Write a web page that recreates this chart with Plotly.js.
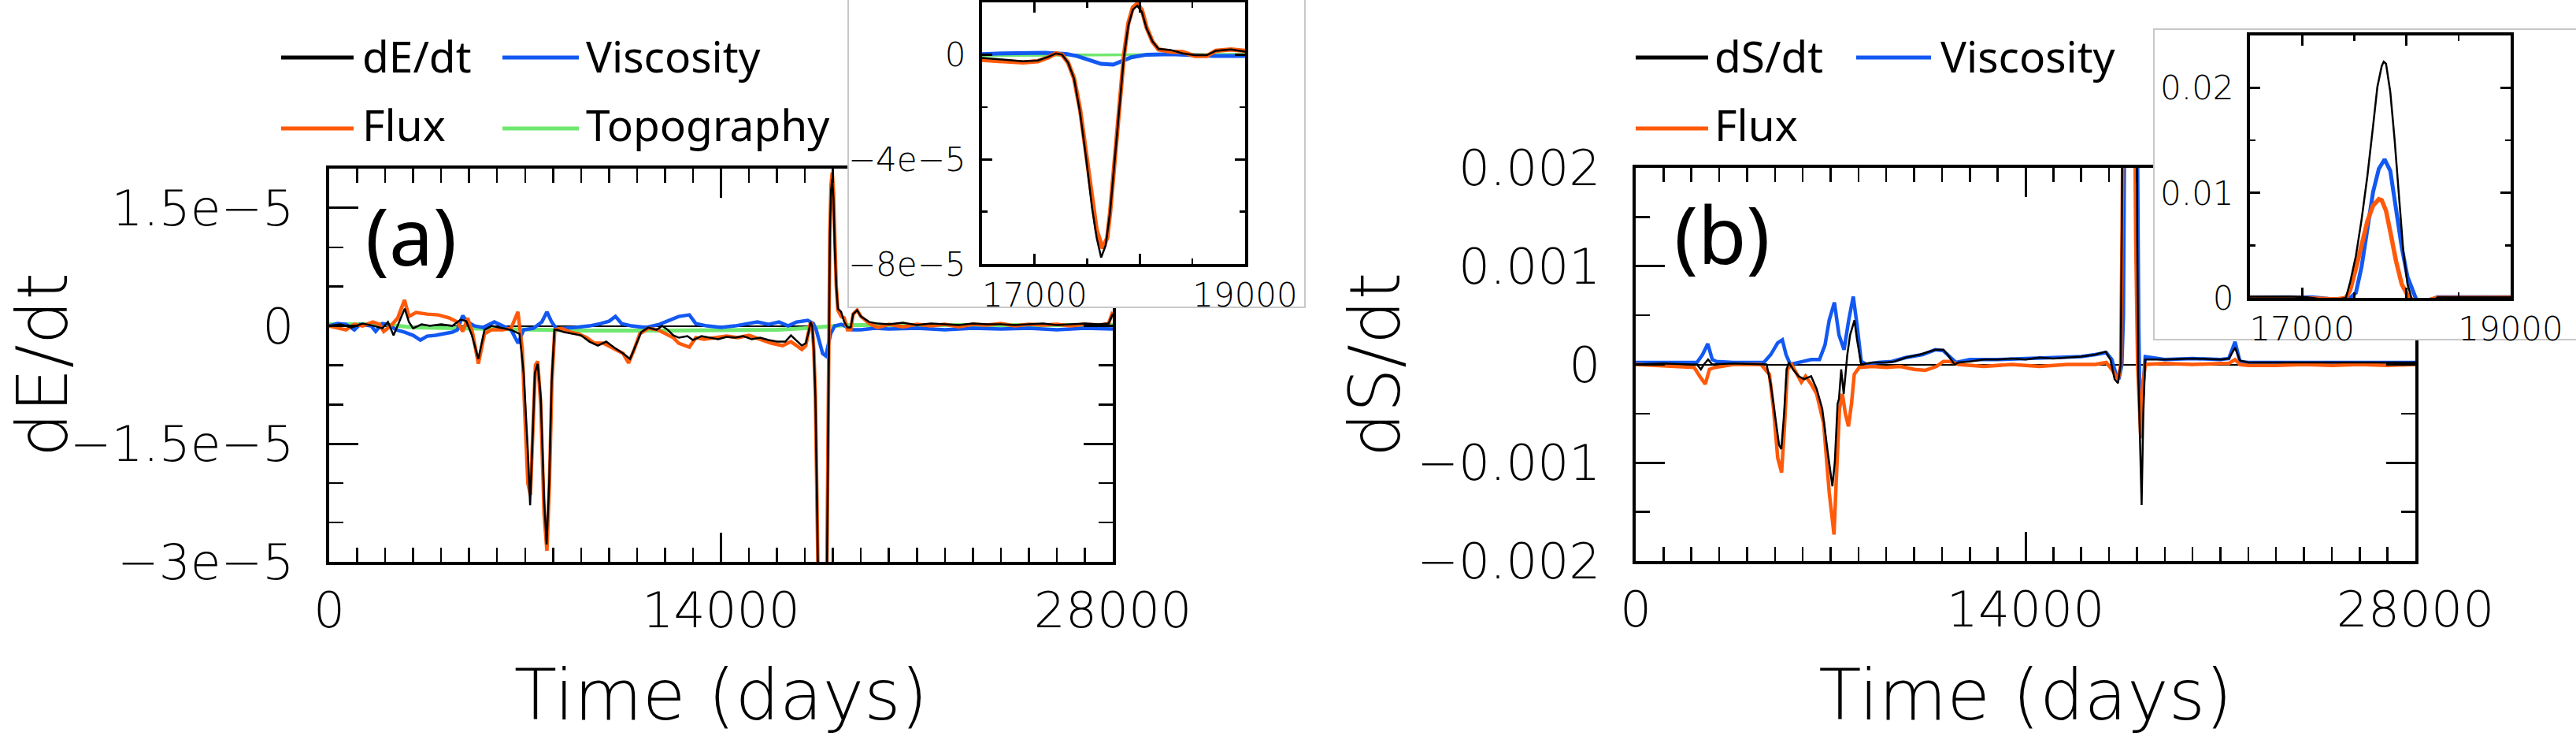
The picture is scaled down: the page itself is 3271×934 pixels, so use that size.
<!DOCTYPE html>
<html><head><meta charset="utf-8">
<script src="https://cdn.plot.ly/plotly-3.0.1.min.js"></script>
<style>html,body{margin:0;padding:0;background:#fff;} #chart{width:3271px;height:934px;}</style>
</head><body><div id="chart"></div>
<script>
// ---------------- Panel (a): energy budget ----------------
const a_days_dEdt = [0,400,800,1200,1600,1900,2100,2300,2500,2700,2850,3000,3300,3600,4000,4400,4700,4900,5100,5330,5550,5800,6200,6500,6800,6950,7100,7180,7260,7350,7450,7560,7680,7770,7860,7950,8050,8150,8400,8700,9000,9300,9600,9900,10200,10500,10750,10950,11150,11400,11700,11900,12100,12300,12500,12800,13000,13300,13600,13900,14200,14500,14800,15100,15400,15700,16000,16300,16500,16686,16887,17030,17131,17202,17260,17317,17374,17432,17489,17546,17589,17632,17675,17718,17761,17805,17848,17890,17933,17976,18020,18063,18120,18177,18292,18406,18521,18636,18722,18865,19000,19300,19600,20000,20500,21000,21500,22000,22500,23000,23500,24000,24500,25000,25500,26000,26500,27000,27500,27850,28000];
const a_dEdt = [0,0.02e-5,-0.02e-5,0.03e-5,0,-0.03e-5,0.05e-5,-0.12e-5,0.05e-5,0.22e-5,0.05e-5,-0.03e-5,0.02e-5,0,0.02e-5,0,0.08e-5,0.06e-5,-0.12e-5,-0.42e-5,-0.05e-5,0,-0.03e-5,-0.05e-5,-0.1e-5,-0.6e-5,-1.6e-5,-2.28e-5,-1.5e-5,-0.6e-5,-0.48e-5,-0.9e-5,-2.2e-5,-2.78e-5,-2.0e-5,-0.7e-5,-0.05e-5,-0.05e-5,-0.08e-5,-0.1e-5,-0.12e-5,-0.2e-5,-0.25e-5,-0.2e-5,-0.28e-5,-0.35e-5,-0.42e-5,-0.25e-5,-0.08e-5,-0.02e-5,-0.05e-5,0,-0.05e-5,-0.12e-5,-0.15e-5,-0.13e-5,-0.18e-5,-0.13e-5,-0.15e-5,-0.17e-5,-0.14e-5,-0.15e-5,-0.13e-5,-0.17e-5,-0.15e-5,-0.18e-5,-0.2e-5,-0.2e-5,-0.12e-5,-0.18e-5,-0.25e-5,-0.22e-5,-0.08e-5,0.05e-5,0,-0.3e-5,-0.91e-5,-2.23e-5,-3.95e-5,-5.87e-5,-6.99e-5,-7.75e-5,-7.29e-5,-5.97e-5,-3.95e-5,-1.92e-5,-0.1e-5,1.11e-5,1.72e-5,1.87e-5,1.62e-5,1.01e-5,0.51e-5,0.22e-5,0.18e-5,0.05e-5,-0.02e-5,-0.02e-5,0.15e-5,0.2e-5,0.12e-5,0.05e-5,0.03e-5,0.02e-5,0.04e-5,0.01e-5,0.03e-5,0.02e-5,0.01e-5,0.03e-5,0.02e-5,0.02e-5,0.01e-5,0.02e-5,0.03e-5,0.01e-5,0.02e-5,0.03e-5,0.02e-5,0.03e-5,0.15e-5];

const a_days_flux = [0,300,600,900,1200,1560,1800,1950,2200,2450,2690,2850,3100,3500,3900,4300,4580,4770,4950,5130,5330,5550,5800,6200,6500,6745,6900,7000,7100,7190,7280,7370,7450,7560,7680,7780,7870,7960,8060,8300,8600,8900,9200,9480,9800,10230,10500,10700,10900,11100,11400,11740,12000,12300,12490,12870,13100,13400,13800,14200,14600,15000,15400,15800,16200,16500,16700,16890,17030,17131,17202,17260,17317,17374,17432,17489,17546,17589,17646,17690,17718,17761,17805,17848,17890,17933,17976,18020,18063,18120,18177,18292,18406,18521,18636,18722,18865,19000,19300,19600,20000,20500,21000,21500,22000,22500,23000,23500,24000,24500,25000,25500,26000,26500,27000,27500,27850,28000];
const a_flux = [0,-0.03e-5,-0.05e-5,0.02e-5,0,0.05e-5,0.02e-5,-0.07e-5,0,0.1e-5,0.33e-5,0.12e-5,0.17e-5,0.15e-5,0.14e-5,0.1e-5,0.05e-5,-0.07e-5,0.1e-5,-0.1e-5,-0.48e-5,-0.1e-5,-0.05e-5,-0.05e-5,-0.03e-5,0.18e-5,-0.3e-5,-1.2e-5,-2.0e-5,-2.15e-5,-1.4e-5,-0.5e-5,-0.45e-5,-1.0e-5,-2.4e-5,-2.86e-5,-2.0e-5,-0.7e-5,-0.05e-5,-0.03e-5,-0.08e-5,-0.1e-5,-0.15e-5,-0.22e-5,-0.22e-5,-0.3e-5,-0.35e-5,-0.47e-5,-0.3e-5,-0.1e-5,-0.03e-5,-0.05e-5,-0.1e-5,-0.15e-5,-0.22e-5,-0.27e-5,-0.15e-5,-0.17e-5,-0.15e-5,-0.13e-5,-0.15e-5,-0.12e-5,-0.17e-5,-0.22e-5,-0.25e-5,-0.2e-5,-0.25e-5,-0.3e-5,-0.25e-5,-0.1e-5,0.05e-5,0,-0.3e-5,-0.9e-5,-2.1e-5,-3.8e-5,-5.6e-5,-6.7e-5,-7.4e-5,-7.0e-5,-6.0e-5,-4.0e-5,-1.9e-5,-0.05e-5,1.2e-5,1.8e-5,1.95e-5,1.7e-5,1.05e-5,0.5e-5,0.2e-5,0.12e-5,0.1e-5,-0.05e-5,-0.05e-5,0.15e-5,0.2e-5,0.12e-5,0.03e-5,-0.02e-5,0.02e-5,-0.01e-5,0.02e-5,0,0.02e-5,-0.01e-5,0.02e-5,0.01e-5,0.03e-5,0,0.02e-5,0.01e-5,0.02e-5,0,0.02e-5,0.01e-5,0.03e-5,0.18e-5];

const a_days_visc = [0,300,600,900,1100,1500,1660,1900,2100,2400,2700,3000,3260,3500,3800,4100,4400,4580,4770,4950,5200,5500,5900,6200,6500,6750,6950,7300,7600,7780,7950,8150,8400,8800,9300,9700,10000,10230,10450,10800,11300,11800,12200,12490,12870,13100,13500,14000,14500,15000,15300,15700,16070,16400,16700,17100,17300,17403,17518,17632,17747,17833,17919,18063,18300,18700,19000,19500,20000,21000,22000,23000,24000,25000,26000,27000,28000];
const a_visc = [0,0.03e-5,0.02e-5,-0.05e-5,0.02e-5,0,-0.07e-5,0.03e-5,0.02e-5,-0.05e-5,-0.08e-5,-0.12e-5,-0.18e-5,-0.13e-5,-0.12e-5,-0.1e-5,-0.08e-5,-0.05e-5,0.13e-5,0.05e-5,0,-0.02e-5,0.05e-5,0,-0.05e-5,-0.22e-5,-0.05e-5,-0.03e-5,0.05e-5,0.18e-5,0.05e-5,-0.05e-5,-0.03e-5,-0.02e-5,0,0.03e-5,0.06e-5,0.12e-5,0.03e-5,0,-0.02e-5,0.02e-5,0.08e-5,0.12e-5,0.14e-5,0.03e-5,0,-0.02e-5,0,0.03e-5,0.05e-5,0.02e-5,0.05e-5,0,0.05e-5,0.07e-5,0.03e-5,-0.05e-5,-0.2e-5,-0.35e-5,-0.38e-5,-0.25e-5,-0.1e-5,0,0.02e-5,-0.05e-5,-0.05e-5,-0.03e-5,-0.04e-5,-0.03e-5,-0.05e-5,-0.03e-5,-0.04e-5,-0.03e-5,-0.05e-5,-0.03e-5,-0.04e-5];

const a_days_topo = [0,2000,3000,5000,6500,9000,12000,16000,17000,18500,28000];
const a_topo = [0.02e-5,0.02e-5,-0.02e-5,-0.03e-5,-0.04e-5,-0.06e-5,-0.06e-5,-0.05e-5,-0.03e-5,0.01e-5,0.01e-5];

// ---------------- Panel (b): enstrophy budget ----------------
const b_days_dSdt = [0,1000,2000,2200,2340,2450,2600,2750,3500,4700,4850,5000,5150,5230,5330,5420,5500,5650,5850,6050,6300,6500,6700,6900,7064,7150,7250,7300,7380,7470,7600,7700,7856,7950,8100,8500,9000,9300,9700,10200,10762,11050,11200,11450,11600,12000,12500,13000,13500,14000,14500,15000,15500,16000,16500,16877,17050,17200,17320,17420,17461,17516,17571,17626,17681,17722,17764,17783,17805,17846,17887,17928,17970,18011,18052,18100,18170,18230,18300,18400,19000,20000,21000,21300,21525,21700,22000,23000,24000,25000,26000,27000,28000];
const b_dSdt = [0,0.00001,0,0,-0.00005,0,0.00005,0,0.00001,0,-0.0002,-0.0005,-0.00082,-0.00086,-0.0005,-0.00005,0.00002,-0.00005,-0.00012,-0.00015,-0.00012,-0.00025,-0.00045,-0.0009,-0.00124,-0.001,-0.0004,-0.00035,-0.00005,-0.0003,0.0001,0.0003,0.00045,0.00025,0,0.00002,0.00002,0.00003,0.00007,0.0001,0.00015,0.00015,0.0001,0,0.00002,0.00003,0.00005,0.00005,0.00006,0.00005,0.00007,0.00006,0.00007,0.00008,0.0001,0.00013,0.00005,-0.00015,-0.00019,0,0.0015,0.004,0.0075,0.0116,0.0164,0.0201,0.0221,0.0225,0.0223,0.0196,0.0151,0.0096,0.0045,0.0013,-0.0001,-0.0006,-0.00143,-0.0005,0.00005,0.00005,0.00005,0.00006,0.00005,0.00006,0.00017,0.00004,0.00002,0.00002,0.00002,0.00002,0.00002,0.00002,0.00002];

const b_days_flux = [0,1500,2100,2300,2500,2650,2850,3500,4500,4800,4950,5100,5240,5350,5450,5600,5800,5950,6100,6300,6500,6750,6950,7122,7200,7320,7424,7530,7640,7750,7850,8030,8500,9000,9500,10000,10400,10800,11050,11300,11600,12500,13500,14500,15500,16500,16900,17100,17250,17330,17420,17461,17516,17571,17626,17681,17736,17764,17805,17846,17901,17956,18025,18080,18140,18220,18300,19000,20000,21000,21300,21525,21700,22000,23000,24000,25000,26000,27000,28000];
const b_flux = [0,-0.00002,-0.00003,-0.00012,-0.0002,-0.00005,-0.00003,0,0,-0.0001,-0.00045,-0.00095,-0.0011,-0.0006,-0.00005,0,-0.0001,-0.00018,-0.00012,-0.0002,-0.0003,-0.0006,-0.0013,-0.00173,-0.0012,-0.00045,-0.0003,-0.0005,-0.00063,-0.0004,-0.0001,-0.00003,-0.00002,-0.00003,-0.00002,-0.00005,-0.00006,-0.00002,0.00003,0.00003,0,-0.00002,0,-0.00002,0,0,0.00002,-0.00005,-0.00012,-0.00015,0,0.00075,0.0028,0.005,0.0073,0.0088,0.0094,0.0093,0.0083,0.0063,0.0035,0.0013,0,-0.0003,-0.00075,-0.0002,0,0.00001,0,0.00001,0.00001,0.00005,0,-0.00001,-0.00001,0,-0.00001,0,-0.00001,0];

const b_days_visc = [0,1500,2200,2400,2590,2750,2900,3500,4600,4850,5100,5266,5400,5550,5900,6300,6600,6800,6950,7136,7300,7482,7650,7813,7950,8100,8300,8700,9200,9700,10300,10760,11050,11300,11500,12000,13000,14000,15000,16000,16500,16900,17100,17250,17350,17461,17516,17571,17626,17681,17736,17791,17846,17901,17956,18011,18066,18093,18150,18230,18300,19000,20000,21000,21300,21525,21700,22000,23000,24000,25000,26000,27000,28000];
const b_visc = [0.00002,0.00002,0.00002,0.0001,0.00021,0.00005,0.00003,0.00002,0.00002,0.0001,0.00022,0.00025,0.0001,0,0.00002,0.00005,0.00005,0.0002,0.00045,0.00063,0.0003,0.00015,0.00045,0.00069,0.0004,0.00003,0,0.00002,0.00003,0.00007,0.0001,0.00015,0.00014,0.00007,0.00002,0.00005,0.00005,0.00006,0.00007,0.00008,0.0001,0.00012,0.00005,-0.0001,-0.00015,0,0.0005,0.003,0.0065,0.0101,0.0123,0.0132,0.0121,0.0086,0.0048,0.002,0.0004,-0.0001,-0.00075,-0.0002,0.00008,0.00005,0.00006,0.00005,0.00006,0.00023,0.00003,0.00002,0.00002,0.00002,0.00002,0.00002,0.00002,0.00002];

// ---------------- tick labels and texts ----------------
const xTickVals = [0, 14000, 28000];
const xTickText = ['0', '14000', '28000'];
const aTickVals = [-3e-5, -1.5e-5, 0, 1.5e-5];
const aTickText = ['\u22123e\u22125', '\u22121.5e\u22125', '0', '1.5e\u22125'];
const bTickVals = [-0.002, -0.001, 0, 0.001, 0.002];
const bTickText = ['\u22120.002', '\u22120.001', '0', '0.001', '0.002'];
const insetXVals = [17000, 18000, 19000];
const insetXText = ['17000', '', '19000'];
const aInsetYVals = [-8e-5, -4e-5, 0];
const aInsetYText = ['\u22128e\u22125', '\u22124e\u22125', '0'];
const bInsetYVals = [0, 0.01, 0.02];
const bInsetYText = ['0', '0.01', '0.02'];

const legendA = ['dE/dt', 'Viscosity', 'Flux', 'Topography'];
const legendB = ['dS/dt', 'Viscosity', 'Flux'];
const xTitle = 'Time (days)';
const yTitleA = 'dE/dt', yTitleB = 'dS/dt';

// ---------------- styling ----------------
const C_BLACK = '#000000', C_ORANGE = '#ff5a0a', C_BLUE = '#1258f2', C_GREEN = '#70e870';
const W = 3271, H = 934;
const fx = p => p / W;
const fy = p => 1 - p / H;
const TICKFONT = {family: 'DejaVu Sans', size: 63, color: '#000', weight: 200};
const INSETFONT = {family: 'DejaVu Sans', size: 42, color: '#000', weight: 200};
const TITLEFONT = {family: 'DejaVu Sans', size: 89, color: '#000', weight: 200};

function line(x, y, color, width, xa, ya) {
  return {x: x, y: y, type: 'scatter', mode: 'lines', line: {color: color, width: width},
          xaxis: xa, yaxis: ya, showlegend: false, hoverinfo: 'skip'};
}
function boxTrace(xa, ya) {
  return {x: [0, 1, 1, 0, 0], y: [0, 0, 1, 1, 0], type: 'scatter', mode: 'lines', fill: 'toself',
          fillcolor: '#ffffff', line: {width: 0, color: 'rgba(0,0,0,0)'}, xaxis: xa, yaxis: ya,
          showlegend: false, hoverinfo: 'skip'};
}

const data = [
  line(a_days_topo, a_topo, C_GREEN, 5, 'x', 'y'),
  line(a_days_visc, a_visc, C_BLUE, 4.5, 'x', 'y'),
  line(a_days_flux, a_flux, C_ORANGE, 4.5, 'x', 'y'),
  line(a_days_dEdt, a_dEdt, C_BLACK, 2.5, 'x', 'y'),
  boxTrace('x2', 'y2'),
  line(a_days_topo, a_topo, C_GREEN, 3.5, 'x3', 'y3'),
  line(a_days_visc, a_visc, C_BLUE, 5, 'x3', 'y3'),
  line(a_days_flux, a_flux, C_ORANGE, 5.5, 'x3', 'y3'),
  line(a_days_dEdt, a_dEdt, C_BLACK, 2.5, 'x3', 'y3'),
  line(b_days_visc, b_visc, C_BLUE, 4.5, 'x4', 'y4'),
  line(b_days_flux, b_flux, C_ORANGE, 4.5, 'x4', 'y4'),
  line(b_days_dSdt, b_dSdt, C_BLACK, 2.5, 'x4', 'y4'),
  boxTrace('x5', 'y5'),
  line(b_days_visc, b_visc, C_BLUE, 5, 'x6', 'y6'),
  line(b_days_flux, b_flux, C_ORANGE, 5.5, 'x6', 'y6'),
  line(b_days_dSdt, b_dSdt, C_BLACK, 2.5, 'x6', 'y6')
];

function mainAxis(extra) {
  return Object.assign({
    showline: true, linewidth: 4, linecolor: '#000', mirror: 'ticks',
    ticks: 'inside', ticklen: 37, tickwidth: 3, tickcolor: '#000',
    showgrid: false, zeroline: false, fixedrange: true, tickfont: TICKFONT,
    tickmode: 'array'
  }, extra);
}
function insetAxis(extra) {
  return Object.assign({
    showline: true, linewidth: 4, linecolor: '#000', mirror: 'ticks',
    ticks: 'inside', ticklen: 13, tickwidth: 3, tickcolor: '#000',
    showgrid: false, zeroline: false, fixedrange: true, tickfont: INSETFONT,
    tickmode: 'array'
  }, extra);
}
function boxAxis(extra) {
  return Object.assign({
    range: [0, 1], showline: true, linewidth: 2, linecolor: '#c8c8c8',
    ticks: '', showticklabels: false, showgrid: false, zeroline: false, fixedrange: true
  }, extra);
}
function minor(dtick, len) {
  return {ticks: 'inside', tickmode: 'linear', tick0: 0, dtick: dtick, ticklen: len, tickwidth: 2.5, tickcolor: '#000', showgrid: false};
}

const layout = {
  width: W, height: H, margin: {l: 0, r: 0, t: 0, b: 0},
  paper_bgcolor: '#ffffff', plot_bgcolor: 'rgba(0,0,0,0)', showlegend: false,
  xaxis: mainAxis({domain: [fx(418), fx(1413)], range: [0, 28000], tickvals: xTickVals, ticktext: xTickText,
    minor: minor(1000, 18), anchor: 'y', ticklabelstandoff: 3,
    title: {text: xTitle, font: TITLEFONT, standoff: 47}}),
  yaxis: mainAxis({domain: [fy(713), fy(214)], range: [-3e-5, 2e-5], tickvals: aTickVals, ticktext: aTickText,
    minor: minor(0.5e-5, 18), anchor: 'x', ticklabelstandoff: 28,
    zeroline: true, zerolinecolor: '#000', zerolinewidth: 2}),
  xaxis2: boxAxis({domain: [fx(1078), fx(1656)], anchor: 'y2', mirror: false}),
  yaxis2: boxAxis({domain: [fy(389), 1], anchor: 'x2', mirror: true}),
  xaxis3: insetAxis({domain: [fx(1247), fx(1581)], range: [16500, 19000], tickvals: insetXVals, ticktext: insetXText,
    minor: minor(500, 7), anchor: 'y3', ticklabelstandoff: 0}),
  yaxis3: insetAxis({domain: [fy(335), fy(3)], range: [-8e-5, 2e-5], tickvals: aInsetYVals, ticktext: aInsetYText,
    minor: minor(2e-5, 7), anchor: 'x3', ticklabelstandoff: 8,
    zeroline: true, zerolinecolor: '#000', zerolinewidth: 2}),
  xaxis4: mainAxis({domain: [fx(2077), fx(3067)], range: [0, 28000], tickvals: xTickVals, ticktext: xTickText,
    minor: minor(1000, 18), anchor: 'y4', ticklabelstandoff: 3,
    title: {text: xTitle, font: TITLEFONT, standoff: 47}}),
  yaxis4: mainAxis({domain: [fy(712), fy(213)], range: [-0.002, 0.002], tickvals: bTickVals, ticktext: bTickText,
    minor: minor(0.0005, 18), anchor: 'x4', ticklabelstandoff: 28,
    zeroline: true, zerolinecolor: '#000', zerolinewidth: 2}),
  xaxis5: boxAxis({domain: [fx(2736), 1], anchor: 'y5', mirror: true}),
  yaxis5: boxAxis({domain: [fy(430), fy(38)], anchor: 'x5', mirror: false}),
  xaxis6: insetAxis({domain: [fx(2857), fx(3188)], range: [16500, 19000], tickvals: insetXVals, ticktext: insetXText,
    minor: minor(500, 7), anchor: 'y6', ticklabelstandoff: 0}),
  yaxis6: insetAxis({domain: [fy(378), fy(45)], range: [0, 0.025], tickvals: bInsetYVals, ticktext: bInsetYText,
    minor: minor(0.005, 7), anchor: 'x6', ticklabelstandoff: 8}),
  shapes: [],
  annotations: []
};

// y-axis titles (rotated)
layout.annotations.push({text: yTitleA, xref: 'paper', yref: 'paper', x: fx(54), y: fy(463), textangle: -90,
  xanchor: 'center', yanchor: 'middle', showarrow: false, font: TITLEFONT});
layout.annotations.push({text: yTitleB, xref: 'paper', yref: 'paper', x: fx(1746), y: fy(463), textangle: -90,
  xanchor: 'center', yanchor: 'middle', showarrow: false, font: TITLEFONT});

// legends: line sample + label
const LEGFONT = {family: 'Noto Sans', size: 55, color: '#000'};
function legendItem(text, color, xLine0, xLine1, xText, yLine, yText) {
  layout.shapes.push({type: 'line', xref: 'paper', yref: 'paper', x0: fx(xLine0), x1: fx(xLine1),
    y0: fy(yLine), y1: fy(yLine), line: {color: color, width: 5}});
  layout.annotations.push({text: text, xref: 'paper', yref: 'paper', x: fx(xText), y: fy(yText),
    xanchor: 'left', yanchor: 'middle', showarrow: false, font: LEGFONT});
}
legendItem(legendA[0], C_BLACK, 357, 449, 458, 73, 70);
legendItem(legendA[1], C_BLUE, 638, 735, 742, 73, 70);
legendItem(legendA[2], C_ORANGE, 357, 449, 458, 163, 158);
legendItem(legendA[3], C_GREEN, 638, 735, 742, 163, 158);
legendItem(legendB[0], C_BLACK, 2077, 2169, 2175, 73, 70);
legendItem(legendB[1], C_BLUE, 2357, 2452, 2462, 73, 70);
legendItem(legendB[2], C_ORANGE, 2077, 2169, 2175, 163, 158);

// panel labels
const PANELFONT = {family: 'Noto Sans', size: 100, color: '#000'};
layout.annotations.push({text: '(a)', xref: 'paper', yref: 'paper', x: fx(522), y: fy(298),
  xanchor: 'center', yanchor: 'middle', showarrow: false, font: PANELFONT});
layout.annotations.push({text: '(b)', xref: 'paper', yref: 'paper', x: fx(2187), y: fy(296),
  xanchor: 'center', yanchor: 'middle', showarrow: false, font: PANELFONT});

Plotly.newPlot('chart', data, layout, {staticPlot: true});
</script>
</body></html>
